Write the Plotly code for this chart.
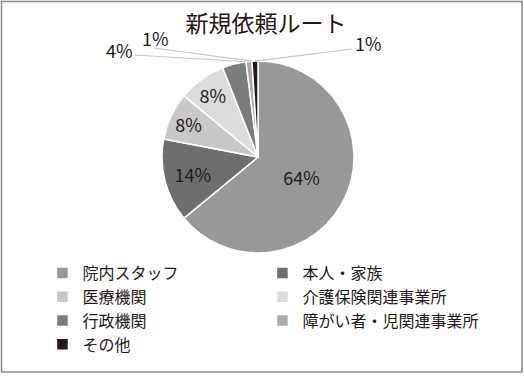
import math
import plotly.graph_objects as go

labels = ["院内スタッフ", "本人・家族", "医療機関", "介護保険関連事業所", "行政機関", "障がい者・児関連事業所", "その他"]
values = [64, 14, 8, 8, 4, 1, 1]
colors = ["#989898", "#6e6e6e", "#c8c8c8", "#dcdcdc", "#7c7c7c", "#ababab", "#231815"]
inside = [True, True, True, True, False, False, False]
# label anchor points (pixels) for the outside labels: (text x, text y, line start x, line start y)
outside_label_pos = {4: (119, 50, 135, 55), 5: (155, 38, 154, 48), 6: (368, 43, 352, 49)}

W, H = 524, 377
CX, CY, R = 258, 157, 96
FONT = "Noto Sans CJK JP"
TXT = "#231815"

fig = go.Figure(go.Pie(
    labels=labels,
    values=values,
    sort=False,
    direction="clockwise",
    rotation=0,
    marker=dict(colors=colors, line=dict(color="white", width=1.5)),
    texttemplate=[f"{v}%" if ins else "" for v, ins in zip(values, inside)],
    textposition=["inside" if ins else "none" for ins in inside],
    insidetextorientation="horizontal",
    textfont=dict(family=FONT, size=18, color=TXT),
    domain=dict(x=[(CX - R) / W, (CX + R) / W], y=[1 - (CY + R) / H, 1 - (CY - R) / H]),
    hoverinfo="label+percent",
))

total = sum(values)
cum = 0
annotations = []
shapes = []
for i, v in enumerate(values):
    start = cum / total
    cum += v
    end = cum / total
    if not inside[i]:
        tx, ty, lx, ly = outside_label_pos[i]
        frac = end if i < len(values) - 1 else (start + end) / 2
        ang = 2 * math.pi * frac
        px = CX + R * math.sin(ang)
        py = CY - R * math.cos(ang)
        annotations.append(dict(text=f"{v}%", x=tx / W, y=1 - ty / H, xref="paper", yref="paper",
                                showarrow=False, font=dict(family=FONT, size=18, color=TXT),
                                xanchor="center", yanchor="middle"))
        shapes.append(dict(type="line", xref="paper", yref="paper", x0=lx / W, y0=1 - ly / H,
                           x1=px / W, y1=1 - py / H, line=dict(color="#c4c4c4", width=1.2)))

shapes.append(dict(type="rect", xref="paper", yref="paper", x0=1.5 / W, x1=522 / W,
                   y0=1 - 372 / H, y1=1 - 1.5 / H, line=dict(color="#8a8a8a", width=1.5)))

fig.update_layout(
    width=W, height=H,
    margin=dict(l=0, r=0, t=0, b=0),
    paper_bgcolor="white",
    font=dict(family=FONT, color=TXT),
    title=dict(text="新規依頼ルート", x=266 / W, xanchor="center", y=1 - 24 / H, yanchor="middle",
               font=dict(family=FONT, size=23, color=TXT)),
    legend=dict(orientation="h", x=0.081, xanchor="left", y=1 - 256 / H, yanchor="top",
                entrywidth=175, entrywidthmode="pixels",
                font=dict(family=FONT, size=16, color=TXT), itemwidth=30),
    annotations=annotations,
    shapes=shapes,
)

fig.write_html("out.html", config={"displayModeBar": False},
               post_script="document.body.style.margin='0';document.body.style.padding='0';")
